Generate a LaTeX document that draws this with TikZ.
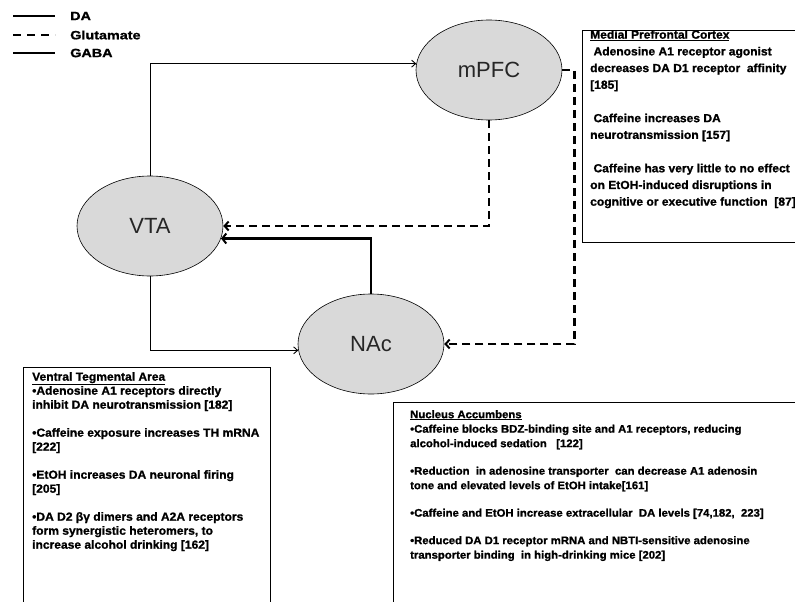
\documentclass[tikz,border=0pt]{standalone}
\usepackage{fontspec}
\setmainfont{Liberation Sans}
\newfontfamily\boxfont[FakeStretch=1.03,BoldFeatures={FakeBold=1.2}]{Liberation Sans}
\newfontfamily\legfont[FakeStretch=1.2,BoldFeatures={FakeBold=1.2}]{Liberation Sans}
\usetikzlibrary{arrows.meta,shapes.geometric}
\definecolor{nodegray}{HTML}{D9D9D9}
\begin{document}
\begin{tikzpicture}[x=1pt,y=-1pt,
  region/.style={ellipse, draw=black, line width=0.6pt, fill=nodegray,
    minimum width=146pt, minimum height=100pt, inner sep=0pt,
    text=black!85, font=\fontsize{22}{24}\selectfont},
  da/.style={line width=0.9pt, -{Straight Barb[length=4pt,width=7pt]}},
  glu/.style={line width=2.4pt, dash pattern=on 8pt off 5pt,
    -{Straight Barb[length=4pt,width=9pt,line width=2pt]}},
  gaba/.style={line width=2.8pt, -{Straight Barb[length=4pt,width=10pt,line width=2pt]}},
  legline/.style={line width=2pt},
  legdash/.style={line width=2pt, dash pattern=on 8pt off 6pt},
  legtext/.style={anchor=west, inner sep=0pt, font=\legfont\bfseries\fontsize{12}{13}\selectfont},
  infobox/.style={draw=black, line width=1.2pt, anchor=north west, inner sep=0pt},
  infotext/.style={anchor=north west, align=left, inner sep=0pt}
]
\useasboundingbox (0,0) rectangle (795,602);
\clip (0,0) rectangle (795,602);
\fill[white] (0,0) rectangle (795,602);

% legend
\coordinate (la1) at (13,16); \coordinate (la2) at (55,16);
\coordinate (lb1) at (13,35); \coordinate (lb2) at (55,35);
\coordinate (lc1) at (13,53); \coordinate (lc2) at (55,53);
\draw[legline] (la1) -- (la2);
\draw[legdash] (lb1) -- (lb2);
\draw[legline] (lc1) -- (lc2);
\node[legtext] (lda) at (70,16) {DA};
\node[legtext] (lglu) at (70,35) {Glutamate};
\node[legtext] (lgaba) at (70,53) {GABA};

% regions
\node[region] (mpfc) at (489,70) {mPFC};
\node[region] (vta) at (150,226) {VTA};
\node[region] (nac) at (371,344) {NAc};

% connectors
\draw[da] (vta.north) |- (mpfc.175);
\draw[da] (vta.south) |- (nac.185);
\draw[glu] (mpfc.south) |- (vta.east);
\draw[glu] (mpfc.east) -- ++(12,0) |- (nac.east);
\draw[gaba] (nac.north) |- (vta.350);

% info boxes
\node[infobox, minimum width=230pt, minimum height=212pt] (mpfcbox) at (582,30) {};
\node[infobox, minimum width=247pt, minimum height=260pt] (vtabox) at (23,367) {};
\node[infobox, minimum width=420pt, minimum height=230pt] (nacbox) at (393,402) {};

\node[infotext, font=\boxfont\bfseries\fontsize{11.7}{16.7}\selectfont] (mpfctxt) at (590,30) {%
\underline{Medial Prefrontal Cortex}\\
\ Adenosine A1 receptor agonist\\
decreases DA D1 receptor\ \ affinity\\
{[185]}\\[16.7pt]
\ Caffeine increases DA\\
neurotransmission [157]\\[16.7pt]
\ Caffeine has very little to no effect\\
on EtOH-induced disruptions in\\
cognitive or executive function\ \ [87]};

\node[infotext, font=\boxfont\bfseries\fontsize{11.7}{14}\selectfont] (vtatxt) at (32,372) {%
\underline{Ventral Tegmental Area}\\
•Adenosine A1 receptors directly\\
inhibit DA neurotransmission [182]\\[14pt]
•Caffeine exposure increases TH mRNA\\
{[222]}\\[14pt]
•EtOH increases DA neuronal firing\\
{[205]}\\[14pt]
•DA D2 βγ dimers and A2A receptors\\
form synergistic heteromers, to\\
increase alcohol drinking [162]};

\node[infotext, font=\boxfont\bfseries\fontsize{11}{14.5}\selectfont] (nactxt) at (410,410) {%
\underline{Nucleus Accumbens}\\
•Caffeine blocks BDZ-binding site and A1 receptors, reducing\\
alcohol-induced sedation\ \ \ [122]\\[13pt]
•Reduction\ \ in adenosine transporter\ \ can decrease A1 adenosin\\
tone and elevated levels of EtOH intake[161]\\[13pt]
•Caffeine and EtOH increase extracellular\ \ DA levels [74,182,\ \ 223]\\[13pt]
•Reduced DA D1 receptor mRNA and NBTI-sensitive adenosine\\
transporter binding\ \ in high-drinking mice [202]};
\end{tikzpicture}
\end{document}
